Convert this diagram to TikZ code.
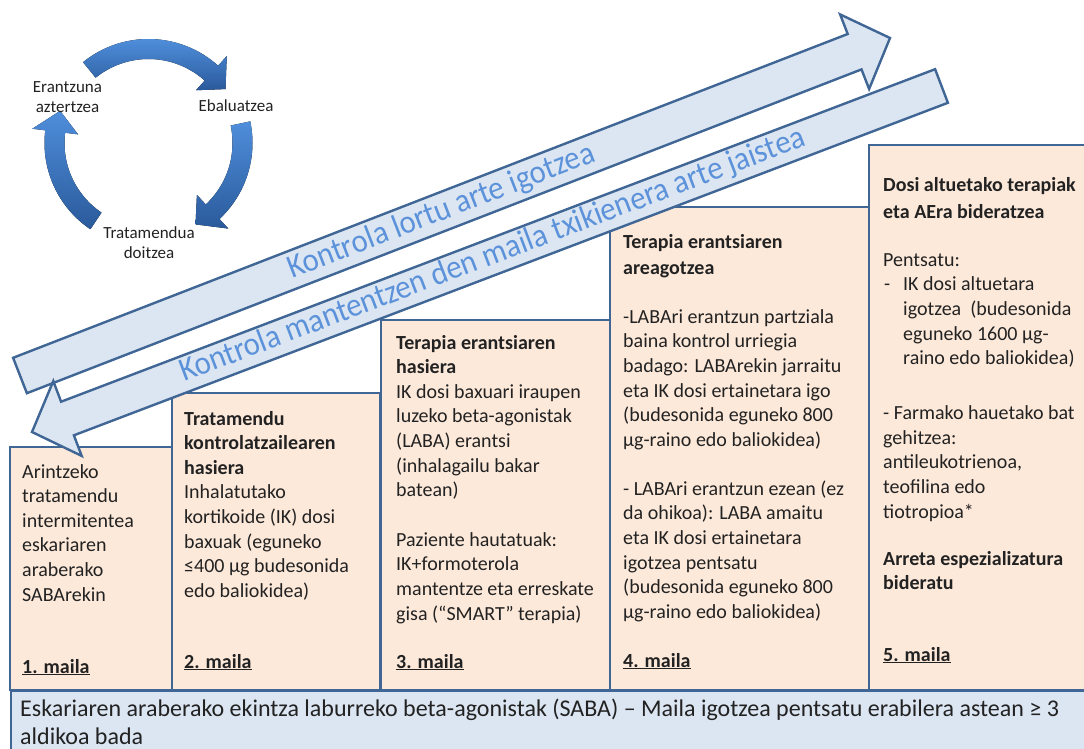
\documentclass[tikz,border=0pt]{standalone}
\usepackage{fontspec}
\setmainfont{Carlito}
\definecolor{lineblue}{HTML}{3F6694}
\definecolor{boxfill}{HTML}{FDE9DA}
\definecolor{arrowfill}{HTML}{DCE6F2}
\definecolor{arrowtxt}{HTML}{5C92DA}
\definecolor{txt}{HTML}{222222}
\definecolor{cyctop}{HTML}{4F8EDB}
\definecolor{cycbot}{HTML}{2A5A9B}
\newcommand{\cycarrow}[3]{%
  \fill[cyclearrow] plot[domain=#1:#2, samples=40] ({148.5+104*cos(\x)},{143+104*sin(\x)})
    -- ({148.5+117*cos(#2)},{143+117*sin(#2)})
    -- ({148.5+94*cos(#3)},{143+94*sin(#3)})
    -- ({148.5+71*cos(#2)},{143+71*sin(#2)})
    -- plot[domain=#2:#1, samples=40] ({148.5+84*cos(\x)},{143+84*sin(\x)}) -- cycle;}
\begin{document}
\begin{tikzpicture}[x=1pt,y=-1pt,
  stepbox/.style={draw=lineblue, line width=2.6pt, fill=boxfill, inner sep=0pt, outer sep=0pt, anchor=north west},
  barbox/.style={draw=lineblue, line width=2.6pt, fill=arrowfill, inner sep=0pt, outer sep=0pt, anchor=north west},
  boxtext/.style={anchor=base west, inner sep=0pt, text=txt, font=\fontsize{20}{24.6}\selectfont},
  levellabel/.style={anchor=base west, inner sep=0pt, text=txt, font=\bfseries\fontsize{20}{24}\selectfont},
  bigarrow/.style={draw=lineblue, line width=2.4pt, fill=arrowfill, line join=miter},
  arrowtext/.style={text=arrowtxt, font=\fontsize{33}{38}\selectfont, inner sep=0pt, anchor=base west},
  cyclearrow/.style={top color=cyctop, bottom color=cycbot, draw=none},
  cyclabel/.style={text=txt, font=\fontsize{17}{20}\selectfont, align=center, inner sep=0pt}
]
\useasboundingbox (0,0) rectangle (1084,749);
\clip (0,0) rectangle (1084,749);

% cycle
\cycarrow{-129}{-48}{-35}
\cycarrow{-12}{47}{60}
\cycarrow{124}{187}{200}
\node[cyclabel] (c1) at (67.5,97) {Erantzuna\\aztertzea};
\node[cyclabel] (c2) at (236,106) {Ebaluatzea};
\node[cyclabel] (c3) at (149,242.5) {Tratamendua\\doitzea};

% level boxes
\node[stepbox, minimum width=162pt, minimum height=243pt] (b1) at (10,447) {};
\node[stepbox, minimum width=208pt, minimum height=297pt] (b2) at (172,393) {};
\node[stepbox, minimum width=229pt, minimum height=370pt] (b3) at (381,320) {};
\node[stepbox, minimum width=259pt, minimum height=483pt] (b4) at (610,207) {};
\node[stepbox, minimum width=240pt, minimum height=545pt] (b5) at (869,145) {};

% bottom bar
\node[barbox, minimum width=1090pt, minimum height=80pt] (bar) at (11,691) {};
\node[anchor=base west, inner sep=0pt, text=txt, font=\fontsize{24}{28}\selectfont] (bartext) at (20,716.5)
  {\parbox[t]{1060pt}{Eskariaren araberako ekintza laburreko beta-agonistak (SABA) – Maila igotzea pentsatu erabilera astean ≥ 3\\aldikoa bada}};

% box texts
\node[boxtext] (t1) at (22,478) {\parbox[t]{150pt}{Arintzeko\\tratamendu\\intermitentea\\eskariaren\\araberako\\SABArekin}};
\node[boxtext] (t2) at (184,425) {\parbox[t]{200pt}{{\bfseries Tratamendu\\kontrolatzailearen\\hasiera}\\Inhalatutako\\kortikoide (IK) dosi\\baxuak (eguneko\\≤400 µg budesonida\\edo baliokidea)}};
\node[boxtext] (t3) at (396,349) {\parbox[t]{220pt}{{\bfseries Terapia erantsiaren\\hasiera}\\IK dosi baxuari iraupen\\luzeko beta-agonistak\\(LABA) erantsi\\(inhalagailu bakar\\batean)\\[25pt]Paziente hautatuak:\\IK+formoterola\\mantentze eta erreskate\\gisa (“SMART” terapia)}};
\node[boxtext] (t4) at (623,248) {\parbox[t]{250pt}{{\bfseries Terapia erantsiaren\\[1.5pt]areagotzea}\\[24.5pt]-LABAri erantzun partziala\\baina kontrol urriegia\\badago: LABArekin jarraitu\\eta IK dosi ertainetara igo\\(budesonida eguneko 800\\µg-raino edo baliokidea)\\[24.5pt]- LABAri erantzun ezean (ez\\da ohikoa): LABA amaitu\\eta IK dosi ertainetara\\igotzea pentsatu\\(budesonida eguneko 800\\µg-raino edo baliokidea)}};
\node[boxtext] (t5) at (883,191) {\parbox[t]{210pt}{{\bfseries Dosi altuetako terapiak\\[2.5pt]eta AEra bideratzea}\\[23.5pt]Pentsatu:\\\makebox[20pt][l]{\hspace{1pt}-}IK dosi altuetara\\\hspace*{20pt}igotzea~ (budesonida\\\hspace*{20pt}eguneko 1600 µg-\\\hspace*{20pt}raino edo baliokidea)\\[30.5pt]- Farmako hauetako bat\\gehitzea:\\antileukotrienoa,\\teofilina edo\\tiotropioa*\\[22.5pt]{\bfseries Arreta espezializatura\\bideratu}}};

% level labels
\node[levellabel] (l1) at (22,673) {\underline{1. maila}};
\node[levellabel] (l2) at (184,668) {\underline{2. maila}};
\node[levellabel] (l3) at (396,668) {\underline{3. maila}};
\node[levellabel] (l4) at (623,667) {\underline{4. maila}};
\node[levellabel] (l5) at (883,661) {\underline{5. maila}};

% big arrows
\coordinate (u1) at (13.1,357.8);
\coordinate (u2) at (847.7,34.0);
\coordinate (u3) at (840.1,14.4);
\coordinate (utip) at (890,38);
\coordinate (u4) at (869.1,89.0);
\coordinate (u5) at (861.5,69.4);
\coordinate (u6) at (26.9,393.2);
\draw[bigarrow] (u1) -- (u2) -- (u3) -- (utip) -- (u4) -- (u5) -- (u6) -- cycle;

\coordinate (d1) at (935.1,69.2);
\coordinate (d2) at (61.1,401.7);
\coordinate (d3) at (53.3,381.1);
\coordinate (dtip) at (32,432);
\coordinate (d4) at (81.7,455.9);
\coordinate (d5) at (73.9,435.3);
\coordinate (d6) at (947.9,102.8);
\draw[bigarrow] (d1) -- (d2) -- (d3) -- (dtip) -- (d4) -- (d5) -- (d6) -- cycle;

\node[arrowtext, rotate=21.2, xscale=0.93] (uptext) at (292,279) {Kontrola lortu arte igotzea};
\node[arrowtext, rotate=20.8, xscale=0.93] (downtext) at (184,382) {Kontrola mantentzen den maila txikienera arte jaistea};
\end{tikzpicture}
\end{document}
